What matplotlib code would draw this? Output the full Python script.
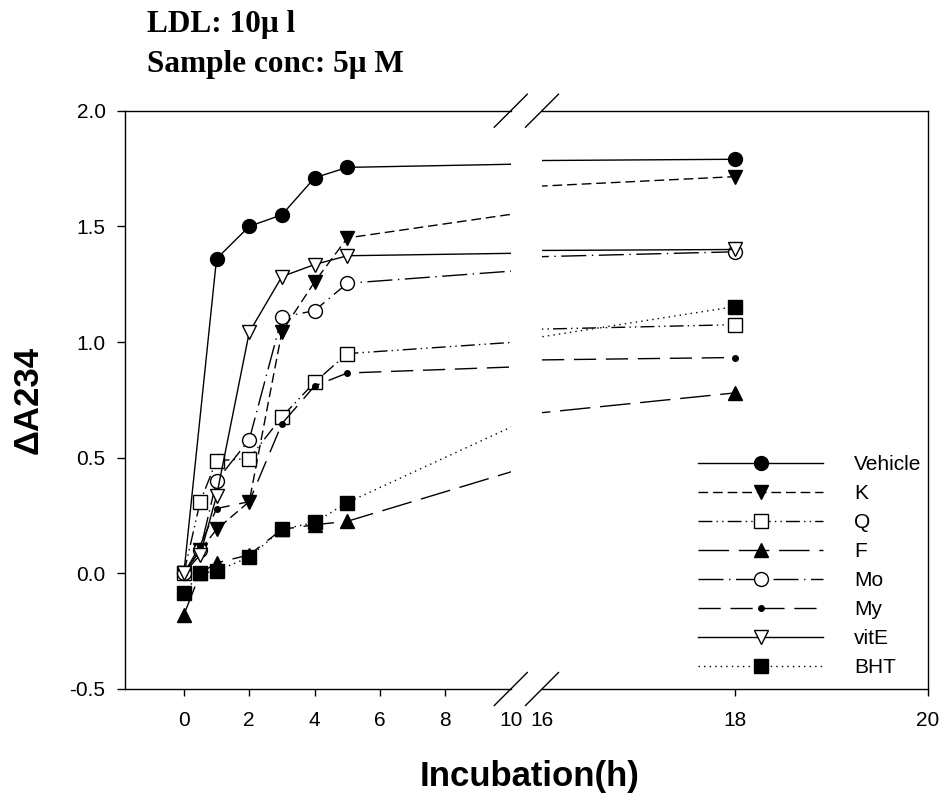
import matplotlib
matplotlib.use("Agg")
import matplotlib.pyplot as plt

plt.rcParams["font.family"] = ["Liberation Sans", "DejaVu Sans"]
plt.rcParams["axes.unicode_minus"] = False

# data (x = incubation time in h)
hours = [0, 0.5, 1, 2, 3, 4, 5, 18]
hours_vehicle = [0, 1, 2, 3, 4, 5, 18]

vehicle = [0.0, 1.36, 1.50, 1.55, 1.71, 1.755, 1.79]
k_vals = [0.0, 0.10, 0.19, 0.31, 1.045, 1.26, 1.45, 1.715]
q_vals = [0.0, 0.31, 0.487, 0.496, 0.677, 0.826, 0.95, 1.075]
f_vals = [-0.18, 0.0, 0.045, 0.08, 0.19, 0.21, 0.225, 0.78]
mo_vals = [0.0, 0.10, 0.40, 0.578, 1.107, 1.136, 1.254, 1.39]
my_vals = [0.0, 0.12, 0.28, 0.31, 0.647, 0.81, 0.866, 0.933]
vite_vals = [0.0, 0.08, 0.335, 1.042, 1.283, 1.335, 1.373, 1.40]
bht_vals = [-0.085, 0.0, 0.01, 0.07, 0.19, 0.22, 0.306, 1.153]

labels = ["Vehicle", "K", "Q", "F", "Mo", "My", "vitE", "BHT"]
xs = [hours_vehicle] + [hours] * 7
ys = [vehicle, k_vals, q_vals, f_vals, mo_vals, my_vals, vite_vals, bht_vals]

# marker, face colour, line style, marker size
styles = [
    ("o", "black", "-", 10),
    ("v", "black", (0, (7, 3.5)), 10),
    ("s", "white", (0, (10, 3, 1, 3, 1, 3)), 10),
    ("^", "black", (0, (22, 7)), 10),
    ("o", "white", (0, (18, 4, 1, 4)), 10),
    ("o", "black", (0, (16, 7)), 4),
    ("v", "white", "-", 10),
    ("s", "black", (0, (1, 3)), 10),
]

W, H = 944, 798
fig = plt.figure(figsize=(W / 100, H / 100), dpi=100)

bottom = (H - 689) / H
height = 578.3 / H
ax1 = fig.add_axes([125 / W, bottom, 385.8 / W, height])
ax2 = fig.add_axes([542 / W, bottom, 386 / W, height])

handles = []
for ax in (ax1, ax2):
    for x, y, lab, (mk, fc, ls, ms) in zip(xs, ys, labels, styles):
        ln, = ax.plot(x, y, color="black", lw=1.0, linestyle=ls,
                      marker=mk, markersize=ms, markerfacecolor=fc,
                      markeredgecolor="black", markeredgewidth=1.0,
                      label=lab)
        if ax is ax1:
            handles.append(ln)
    ax.set_ylim(-0.5, 2.0)
    for sp in ax.spines.values():
        sp.set_linewidth(1.0)

ax1.set_xlim(-1.8, 10)
ax2.set_xlim(16, 20)

ax1.spines["right"].set_visible(False)
ax2.spines["left"].set_visible(False)

ax1.set_xticks([0, 2, 4, 6, 8, 10])
ax1.set_yticks([-0.5, 0.0, 0.5, 1.0, 1.5, 2.0])
ax1.set_yticklabels(["-0.5", "0.0", "0.5", "1.0", "1.5", "2.0"])
ax2.set_xticks([16, 18, 20])

ax1.tick_params(axis="y", direction="out", length=6, width=1, labelsize=15, pad=8)
ax1.tick_params(axis="x", direction="out", length=5, width=1, labelsize=15, pad=11)
ax2.tick_params(axis="y", left=False, labelleft=False)
ax2.tick_params(axis="x", direction="out", length=5, width=1, labelsize=15, pad=11)

# no tick marks right at the break
ax1.xaxis.get_major_ticks()[-1].tick1line.set_visible(False)
ax2.xaxis.get_major_ticks()[0].tick1line.set_visible(False)

# break marks (diagonal slashes across top and bottom spines)
half = 16.5
for ax, xe in ((ax1, 1.0), (ax2, 0.0)):
    pos = ax.get_position()
    dx = half / (pos.width * W)
    dy = half / (pos.height * H)
    for ye in (0.0, 1.0):
        ax.plot([xe - dx, xe + dx], [ye - dy, ye + dy], color="black",
                lw=1.0, transform=ax.transAxes, clip_on=False)

fig.legend(handles, labels, loc="upper left",
           bbox_to_anchor=(698 / W, 1 - 455 / H),
           bbox_transform=fig.transFigure, frameon=False, fontsize=15,
           handlelength=6, handletextpad=1.5, labelspacing=0.48,
           borderpad=0, borderaxespad=0, numpoints=1)

title_font = dict(family="Liberation Serif", weight="bold", fontsize=22.5)
fig.text(147 / W, 1 - 32 / H, "LDL: 10μ l", ha="left", va="baseline", **title_font)
fig.text(147 / W, 1 - 72 / H, "Sample conc: 5μ M", ha="left", va="baseline", **title_font)

fig.text(28 / W, 1 - 400 / H, "ΔA234", rotation=90, ha="center", va="center",
         fontsize=25, fontweight="bold")
fig.text(530 / W, 1 - 786 / H, "Incubation(h)", ha="center", va="baseline",
         fontsize=25, fontweight="bold")

fig.savefig("out.png", dpi=100)
